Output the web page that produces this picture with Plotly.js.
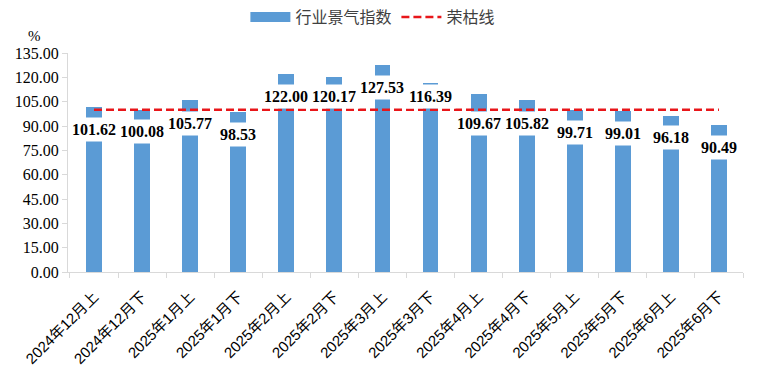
<!DOCTYPE html>
<html>
<head>
<meta charset="utf-8">
<script src="https://cdn.plot.ly/plotly-3.0.1.min.js"></script>
<style>html,body{margin:0;padding:0;background:#fff;}#chart{width:761px;height:379px;}</style>
</head>
<body>
<div id="chart"></div>
<script>
const categories = ["2024年12月上","2024年12月下","2025年1月上","2025年1月下","2025年2月上","2025年2月下","2025年3月上","2025年3月下","2025年4月上","2025年4月下","2025年5月上","2025年5月下","2025年6月上","2025年6月下"];
const indexValues = [101.62,100.08,105.77,98.53,122.00,120.17,127.53,116.39,109.67,105.82,99.71,99.01,96.18,90.49];
const boomBustLine = [100,100,100,100,100,100,100,100,100,100,100,100,100,100];
const yTicks = [0,15,30,45,60,75,90,105,120,135];

const W = 761, H = 379;
const margin = {l:68, r:18, t:53, b:107};
const yMax = 135;
const plotH = H - margin.t - margin.b;
const pxPerUnit = plotH / yMax;

const traces = [
  {type:'bar', name:'行业景气指数', x:categories, y:indexValues, marker:{color:'#5b9bd5'}, width:0.33, showlegend:false},
  {type:'scatter', mode:'lines', name:'行业景气指数', x:[categories[0]], y:[null], line:{color:'#5b9bd5', width:10}, hoverinfo:'skip'},
  {type:'scatter', mode:'lines', name:'荣枯线', x:categories, y:boomBustLine, line:{color:'#e8161a', width:2.5, dash:'8px,4px'}}
];

// label placement: fixed offset below the bar top, nudged so the white box does not hide the 荣枯线
const lineY = (yMax - boomBustLine[0]) * pxPerUnit;
const annotations = categories.map((c,i)=>{
  const topPx = (yMax - indexValues[i]) * pxPerUnit;
  let center = topPx + 22;
  if (Math.abs(center - lineY) < 13) center = center < lineY ? lineY - 13 : lineY + 14;
  return {
    x:c, y:indexValues[i], yshift:-(center - topPx), xref:'x', yref:'y', showarrow:false,
    text:'<b>'+indexValues[i].toFixed(2)+'</b>', bgcolor:'#ffffff', borderpad:3,
    font:{family:'"Liberation Serif","Times New Roman",serif', size:16, color:'#000'}
  };
});
annotations.push({xref:'paper', yref:'paper', x:-0.05, y:1.03, xanchor:'center', yanchor:'bottom', showarrow:false,
  text:'%', font:{family:'"Liberation Serif","Times New Roman",serif', size:15, color:'#000'}});

const layout = {
  width:W, height:H,
  margin:margin,
  paper_bgcolor:'#fff', plot_bgcolor:'#fff',
  showlegend:true,
  legend:{orientation:'h', x:0.49, xanchor:'center', xref:'container', y:1.0, yref:'container', yanchor:'top',
    font:{family:'"Noto Sans CJK SC",sans-serif', size:16, color:'#404040'}, itemwidth:40, traceorder:'normal'},
  xaxis:{type:'category', showline:true, linecolor:'#d9d9d9', linewidth:1, ticks:'outside', tickson:'boundaries',
    ticklen:5, tickcolor:'#d9d9d9', tickangle:-45, showgrid:false, ticklabelstandoff:9,
    tickfont:{family:'"Liberation Sans",Arial,"Noto Sans CJK SC",sans-serif', size:15, color:'#000'}},
  yaxis:{range:[0,yMax], tickvals:yTicks, ticktext:yTicks.map(v=>v.toFixed(2)), showline:true, linecolor:'#d9d9d9',
    ticks:'outside', ticklen:5, tickcolor:'#d9d9d9', showgrid:false, zeroline:false,
    tickfont:{family:'"Liberation Serif","Times New Roman",serif', size:16, color:'#000'}},
  annotations:annotations,
  bargap:0
};
Plotly.newPlot('chart', traces, layout, {displayModeBar:false, staticPlot:true});
</script>
</body>
</html>
